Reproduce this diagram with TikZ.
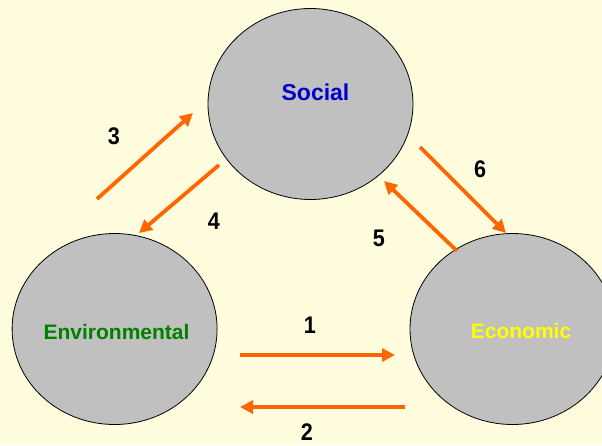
\documentclass[tikz,border=0pt]{standalone}
\usepackage{fontspec}
\setmainfont{Liberation Sans}
\usetikzlibrary{shapes.geometric,arrows.meta}
\definecolor{bgyellow}{HTML}{FFFDDD}
\definecolor{circfill}{HTML}{C0C0C0}
\definecolor{arroworange}{HTML}{FF6600}
\definecolor{socblue}{HTML}{0000CC}
\definecolor{envgreen}{HTML}{008000}
\definecolor{ecoyellow}{HTML}{FFFF00}
\tikzset{
  sphere/.style={ellipse, draw=black, line width=0.8pt, fill=circfill, minimum width=205pt, minimum height=191pt, inner sep=0pt},
  lbl/.style={font=\bfseries\fontsize{21}{25}\selectfont, inner sep=0pt},
  num/.style={font=\bfseries\fontsize{24}{28}\selectfont, text=black, inner sep=0pt, xscale=0.9},
  flow/.style={draw=arroworange, line width=3.8pt, -{Triangle[length=13pt, width=13pt]}}
}
\begin{document}
\begin{tikzpicture}[x=1pt, y=-1pt]
\useasboundingbox (0,0) rectangle (602,445);
\fill[bgyellow] (0,0) rectangle (602,445);
% circles
\node[sphere] (soc) at (310.5,104) {};
\node[sphere] (env) at (114.6,329) {};
\node[sphere] (eco) at (512.5,329) {};
% labels
\node[lbl, text=socblue, font=\bfseries\fontsize{23}{27}\selectfont] (socl) at (315.5,92) {Social};
\node[lbl, text=envgreen] (envl) at (116.5,332) {Environmental};
\node[lbl, text=ecoyellow] (ecol) at (521,331) {Economic};
% arrow endpoints
\coordinate (a1s) at (240,355);
\coordinate (a1e) at (395,355);
\coordinate (a2s) at (405,407);
\coordinate (a2e) at (240,407);
\coordinate (a3s) at (97,199);
\coordinate (a3e) at (193,113);
\coordinate (a4s) at (219,165);
\coordinate (a4e) at (139,233);
\coordinate (a5s) at (457,251);
\coordinate (a5e) at (384,181);
\coordinate (a6s) at (420,147);
\coordinate (a6e) at (506,233);
\draw[flow] (a1s) -- (a1e);
\draw[flow] (a2s) -- (a2e);
\draw[flow] (a3s) -- (a3e);
\draw[flow] (a4s) -- (a4e);
\draw[flow] (a5s) -- (a5e);
\draw[flow] (a6s) -- (a6e);
% numbers
\node[num] (n1) at (310,325) {1};
\node[num] (n2) at (307,432.5) {2};
\node[num] (n3) at (114,136) {3};
\node[num] (n4) at (214,221) {4};
\node[num] (n5) at (379,238) {5};
\node[num] (n6) at (480,169) {6};
\end{tikzpicture}
\end{document}
